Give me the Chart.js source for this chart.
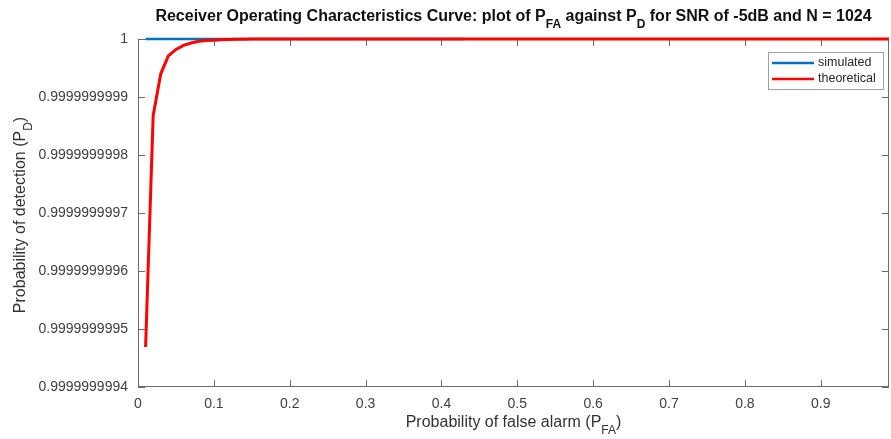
<!DOCTYPE html>
<html>
<style>
body {
    margin: 0;
    background-color: white;
}
#wrap {
    width: 891px;
    height: 439px;
}
</style>
  <head>
    <meta charset="utf-8">
    <title>ROC curve</title>
  </head>
  <body>
    <div id="wrap"><canvas id="myChart"></canvas></div>

    <script src="https://cdn.jsdelivr.net/npm/chart.js@4/dist/chart.umd.min.js"></script>
    <script type="text/javascript">
      // values
      const pfaTheory = [0.01, 0.02, 0.03, 0.04, 0.05, 0.06, 0.07, 0.08, 0.09, 0.10,
                         0.11, 0.12, 0.13, 0.14, 0.15, 0.2, 0.3, 0.4, 0.5, 0.6, 0.7, 0.8, 0.9, 0.99];
      const pdTheory = [0.999999999469, 0.999999999868, 0.99999999994, 0.999999999971, 0.999999999982,
                        0.999999999989, 0.999999999993, 0.999999999996, 0.9999999999974, 0.999999999998,
                        0.9999999999985, 0.999999999999, 0.9999999999995, 0.9999999999997, 1,
                        1, 1, 1, 1, 1, 1, 1, 1, 1];
      const pfaSim = [0.01, 0.1, 0.2, 0.3, 0.43];
      const pdSim = [1, 1, 1, 1, 1];
      const xTicks = [0, 0.1, 0.2, 0.3, 0.4, 0.5, 0.6, 0.7, 0.8, 0.9];
      const yTicks = [0.9999999994, 0.9999999995, 0.9999999996, 0.9999999997, 0.9999999998, 0.9999999999, 1];

      const FONT = '"Liberation Sans", Arial, sans-serif';
      const tickLen = 7;

      function toPoints(xs, ys) {
        return xs.map((x, i) => ({x: x, y: ys[i]}));
      }

      // draws text with subscript parts, centred on x
      function richText(ctx, parts, x, y, size, weight) {
        const subSize = Math.round(size * 0.75);
        let total = 0;
        parts.forEach(p => {
          ctx.font = weight + ' ' + (p.sub ? subSize : size) + 'px ' + FONT;
          p.w = ctx.measureText(p.t).width;
          total += p.w;
        });
        let cx = x - total / 2;
        ctx.textAlign = 'left';
        ctx.textBaseline = 'middle';
        parts.forEach(p => {
          ctx.font = weight + ' ' + (p.sub ? subSize : size) + 'px ' + FONT;
          ctx.fillText(p.t, cx, p.sub ? y + size * 0.45 : y);
          cx += p.w;
        });
      }

      const boxPlugin = {
        id: 'matlabBox',
        beforeDatasetsDraw(chart) {
          const ctx = chart.ctx;
          const a = chart.chartArea;
          const xs = chart.scales.x, ys = chart.scales.y;
          ctx.save();
          ctx.strokeStyle = '#6b6b6b';
          ctx.lineWidth = 1;
          ctx.strokeRect(a.left + 0.5, a.top + 0.5, a.right - a.left - 1, a.bottom - a.top - 1);
          ctx.beginPath();
          xTicks.forEach(v => {
            const px = Math.round(xs.getPixelForValue(v)) + 0.5;
            ctx.moveTo(px, a.bottom); ctx.lineTo(px, a.bottom - tickLen);
            ctx.moveTo(px, a.top); ctx.lineTo(px, a.top + tickLen);
          });
          yTicks.forEach(v => {
            const py = Math.round(ys.getPixelForValue(v)) + 0.5;
            ctx.moveTo(a.left, py); ctx.lineTo(a.left + tickLen, py);
            ctx.moveTo(a.right, py); ctx.lineTo(a.right - tickLen, py);
          });
          ctx.stroke();
          ctx.restore();
        },
        afterDraw(chart) {
          const ctx = chart.ctx;
          const a = chart.chartArea;
          const mid = (a.left + a.right) / 2;
          ctx.save();
          ctx.fillStyle = '#111';
          richText(ctx, [
            {t: 'Receiver Operating Characteristics Curve: plot of P'}, {t: 'FA', sub: true},
            {t: ' against P'}, {t: 'D', sub: true},
            {t: ' for SNR of -5dB and N = 1024'}
          ], mid, 17, 16, 'bold');

          ctx.fillStyle = '#333';
          richText(ctx, [{t: 'Probability of false alarm (P'}, {t: 'FA', sub: true}, {t: ')'}],
                   mid, 423, 16, 'normal');

          ctx.save();
          ctx.translate(21, (a.top + a.bottom) / 2 + 2);
          ctx.rotate(-Math.PI / 2);
          richText(ctx, [{t: 'Probability of detection (P'}, {t: 'D', sub: true}, {t: ')'}],
                   0, 0, 16, 'normal');
          ctx.restore();

          // legend box, upper right
          const lx = 768, ly = 52, lw = 115, lh = 37;
          ctx.fillStyle = 'white';
          ctx.fillRect(lx, ly, lw, lh);
          ctx.strokeStyle = '#a0a0a0';
          ctx.lineWidth = 1;
          ctx.strokeRect(lx + 0.5, ly + 0.5, lw, lh);
          chart.data.datasets.forEach((ds, i) => {
            const y = ly + 11 + i * 16;
            ctx.strokeStyle = ds.borderColor;
            ctx.lineWidth = 2.5;
            ctx.beginPath();
            ctx.moveTo(lx + 4, y); ctx.lineTo(lx + 46, y);
            ctx.stroke();
            ctx.fillStyle = '#262626';
            ctx.font = '12.5px ' + FONT;
            ctx.textAlign = 'left';
            ctx.textBaseline = 'middle';
            ctx.fillText(ds.label, lx + 50, y);
          });
          ctx.restore();
        }
      };

      var ctx = document.getElementById('myChart').getContext('2d');
      var chart = new Chart(ctx, {
          type: 'line',
          data: {
              datasets: [{
                  label: 'simulated',
                  borderColor: '#0072BD',
                  borderWidth: 2.5,
                  data: toPoints(pfaSim, pdSim),
                  order: 1
              }, {
                  label: 'theoretical',
                  borderColor: '#FF0000',
                  borderWidth: 3,
                  data: toPoints(pfaTheory, pdTheory),
                  order: 0
              }]
          },
          options: {
            responsive: true,
            maintainAspectRatio: false,
            animation: false,
            layout: { padding: { top: 39, right: 2, left: 0, bottom: 0 } },
            elements: { point: { radius: 0 }, line: { tension: 0 } },
            datasets: { line: { clip: false } },
            plugins: {
              legend: { display: false },
              title: { display: false },
              tooltip: { enabled: false }
            },
            scales: {
              x: {
                type: 'linear',
                min: 0,
                max: 0.99,
                afterBuildTicks: s => { s.ticks = xTicks.map(v => ({value: v})); },
                afterFit: s => { s.height = 52; },
                grid: { display: false, drawTicks: false },
                border: { display: false },
                ticks: {
                  autoSkip: false,
                  maxRotation: 0,
                  padding: 9,
                  color: '#404040',
                  font: { family: FONT, size: 14 },
                  callback: v => String(v)
                }
              },
              y: {
                type: 'linear',
                min: 0.9999999994,
                max: 1,
                afterBuildTicks: s => { s.ticks = yTicks.map(v => ({value: v})); },
                afterFit: s => { s.width = 138; },
                grid: { display: false, drawTicks: false },
                border: { display: false },
                ticks: {
                  autoSkip: false,
                  padding: 10,
                  color: '#404040',
                  font: { family: FONT, size: 14 },
                  callback: v => (v === 1 ? '1' : v.toFixed(10))
                }
              }
            }
          },
          plugins: [boxPlugin]
      });
    </script>
  </body>
</html>
